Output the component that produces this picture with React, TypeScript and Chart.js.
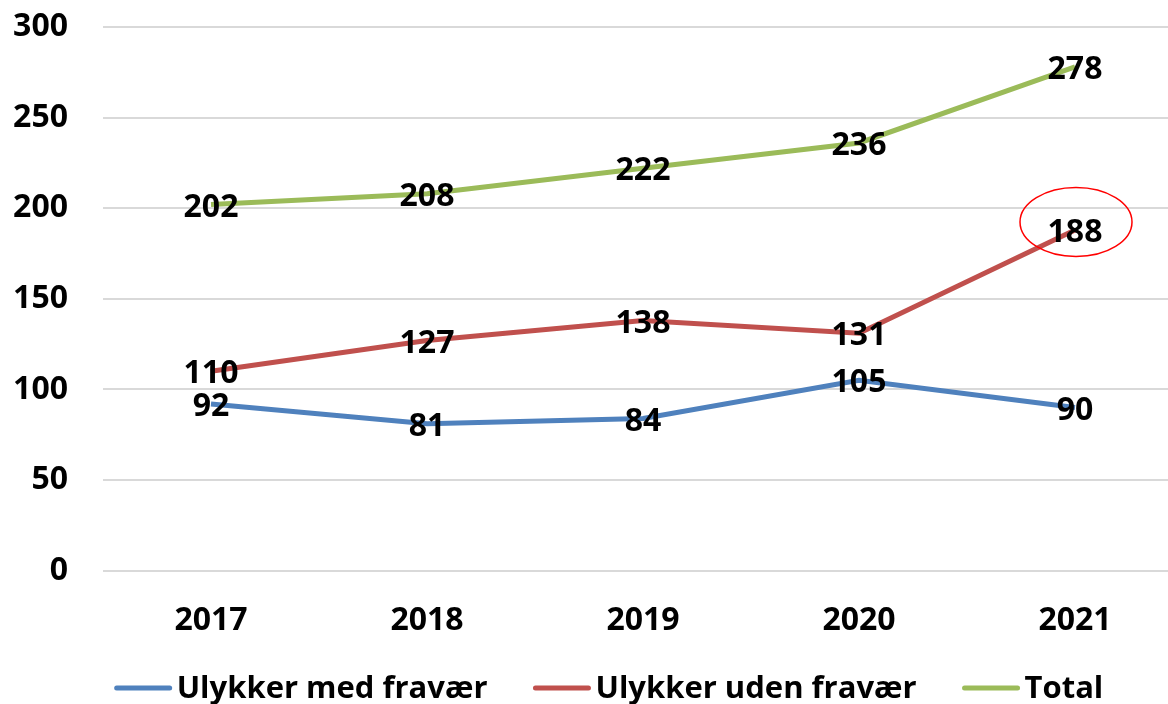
import React, { useEffect, useRef } from "react";
import { Chart, registerables } from "chart.js";

Chart.register(...registerables);

const categories = ["2017", "2018", "2019", "2020", "2021"];
const seriesNames = ["Ulykker med fravær", "Ulykker uden fravær", "Total"];
const medFravaer = [92, 81, 84, 105, 90];
const udenFravaer = [110, 127, 138, 131, 188];
const total = [202, 208, 222, 236, 278];
const yTicks = [0, 50, 100, 150, 200, 250, 300];
const colors = ["#4F81BD", "#C0504D", "#9BBB59"];
const highlight = { dataset: 1, index: 4 };

const FONT = "'Open Sans', 'DejaVu Sans', sans-serif";

const dataLabelPlugin = {
  id: "dataLabels",
  afterDatasetsDraw(chart: any) {
    const ctx = chart.ctx;
    ctx.save();
    ctx.font = `bold 32px ${FONT}`;
    ctx.fillStyle = "#000000";
    ctx.textAlign = "center";
    ctx.textBaseline = "middle";
    chart.data.datasets.forEach((ds: any, di: number) => {
      const meta = chart.getDatasetMeta(di);
      meta.data.forEach((pt: any, i: number) => {
        ctx.fillText(String(ds.data[i]), pt.x, pt.y + 3);
      });
    });
    // highlight ellipse
    const hp = chart.getDatasetMeta(highlight.dataset).data[highlight.index];
    if (hp) {
      ctx.beginPath();
      ctx.ellipse(hp.x + 1, hp.y - 8, 56, 34.5, 0, 0, Math.PI * 2);
      ctx.strokeStyle = "#FF0000";
      ctx.lineWidth = 1.5;
      ctx.stroke();
    }
    ctx.restore();
  },
};

const legendPlugin = {
  id: "customLegend",
  afterDraw(chart: any) {
    const ctx = chart.ctx;
    ctx.save();
    ctx.font = `bold 31px ${FONT}`;
    ctx.textBaseline = "middle";
    ctx.textAlign = "left";
    const lineLen = 57;
    const gap = 5;
    const itemGap = 46;
    const y = 688;
    const centerX = 609;
    const items = chart.data.datasets.map((ds: any) => ({
      text: ds.label,
      color: ds.borderColor,
      w: lineLen + gap + ctx.measureText(ds.label).width,
    }));
    const totalW =
      items.reduce((s: number, it: any) => s + it.w, 0) + itemGap * (items.length - 1);
    let x = centerX - totalW / 2;
    items.forEach((it: any) => {
      ctx.strokeStyle = it.color;
      ctx.lineWidth = 5;
      ctx.lineCap = "round";
      ctx.beginPath();
      ctx.moveTo(x + 2, y);
      ctx.lineTo(x + lineLen - 2, y);
      ctx.stroke();
      ctx.fillStyle = "#000000";
      ctx.fillText(it.text, x + lineLen + gap, y + 1);
      x += it.w + itemGap;
    });
    ctx.restore();
  },
};

export default function App() {
  const ref = useRef<HTMLCanvasElement | null>(null);
  useEffect(() => {
    if (!ref.current) return;
    const seriesData = [medFravaer, udenFravaer, total];
    const chart = new Chart(ref.current, {
      type: "line",
      data: {
        labels: categories,
        datasets: seriesData.map((d, i) => ({
          label: seriesNames[i],
          data: d,
          borderColor: colors[i],
          backgroundColor: colors[i],
          borderWidth: 5,
          pointRadius: 0,
          tension: 0,
        })),
      },
      options: {
        animation: false,
        responsive: true,
        maintainAspectRatio: false,
        layout: { padding: { top: 0, right: 7, bottom: 33, left: 0 } },
        plugins: {
          legend: { display: false },
          tooltip: { enabled: false },
        },
        scales: {
          x: {
            offset: true,
            grid: { display: false, drawTicks: false },
            border: { display: false },
            ticks: {
              padding: 31,
              color: "#000000",
              font: { family: FONT, size: 32, weight: "bold" },
              maxRotation: 0,
            },
          },
          y: {
            min: yTicks[0],
            max: yTicks[yTicks.length - 1],
            afterFit: (scale: any) => {
              scale.width = 103;
              scale.paddingTop = 27;
            },
            afterBuildTicks: (scale: any) => {
              scale.ticks = yTicks.map((v) => ({ value: v }));
            },
            grid: { color: "#D9D9D9", lineWidth: 2, drawTicks: false },
            border: { display: false },
            ticks: {
              padding: 35,
              color: "#000000",
              font: { family: FONT, size: 32, weight: "bold" },
            },
          },
        },
      },
      plugins: [dataLabelPlugin, legendPlugin],
    });
    return () => chart.destroy();
  }, []);

  return (
    <div
      style={{
        position: "absolute",
        left: 0,
        top: 0,
        width: 1168,
        height: 704,
        overflow: "hidden",
        background: "#ffffff",
      }}
    >
      <div style={{ position: "relative", width: 1190, height: 704 }}>
        <canvas ref={ref} />
      </div>
    </div>
  );
}
